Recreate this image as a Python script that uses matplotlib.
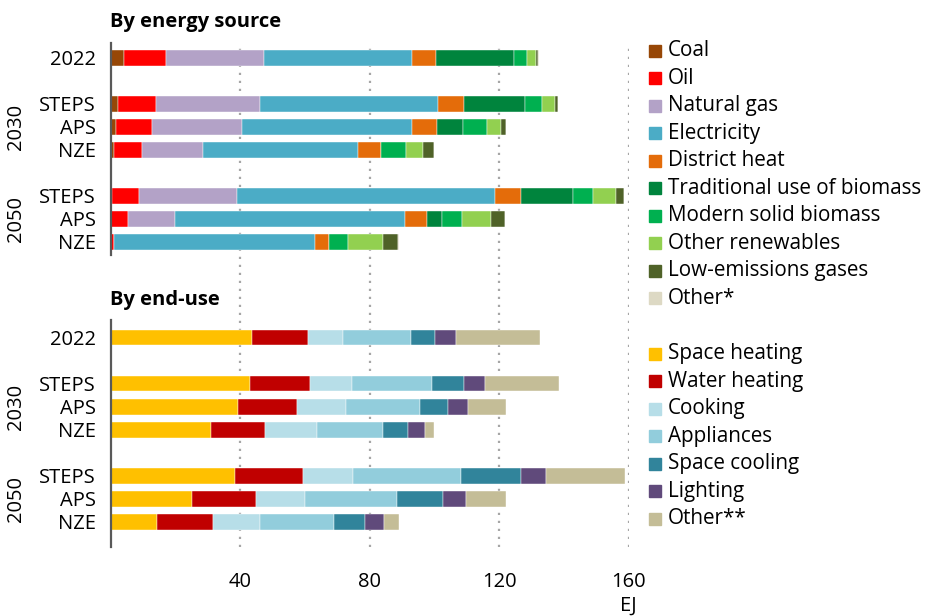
import matplotlib.pyplot as plt
import matplotlib.transforms as mtransforms
from matplotlib.patches import Rectangle
import numpy as np

plt.rcParams['font.family'] = ['Open Sans', 'DejaVu Sans']

row_labels = ['2022', 'STEPS', 'APS', 'NZE', 'STEPS', 'APS', 'NZE']
group_labels = ['2030', '2050']

# By energy source (EJ)
sources = ['Coal', 'Oil', 'Natural gas', 'Electricity', 'District heat',
           'Traditional use of biomass', 'Modern solid biomass',
           'Other renewables', 'Low-emissions gases', 'Other*']
source_colors = ['#974706', '#FF0000', '#B3A2C7', '#4BACC6', '#E46C0A',
                 '#00843D', '#00B050', '#92D050', '#4F6228', '#DDD9C4']
coal        = [4.0, 2.2, 1.6, 1.0, 0.4, 0.0, 0.0]
oil         = [13.0, 11.8, 11.0, 8.6, 8.4, 5.3, 0.9]
natural_gas = [30.3, 32.0, 28.0, 18.9, 30.2, 14.6, 0.0]
electricity = [45.8, 55.1, 52.3, 47.8, 79.7, 71.0, 62.2]
district    = [7.2, 7.9, 7.8, 7.0, 8.1, 6.8, 4.4]
trad_bio    = [24.2, 19.0, 8.1, 0.0, 16.1, 4.6, 0.0]
modern_bio  = [4.2, 5.2, 7.4, 7.9, 6.2, 6.2, 5.7]
other_ren   = [2.8, 4.1, 4.4, 5.2, 7.0, 8.9, 10.9]
low_em      = [0.4, 0.8, 1.4, 3.3, 2.3, 4.3, 4.5]
other_src   = [0.3, 0.2, 0.2, 0.2, 0.2, 0.2, 0.3]
source_data = [coal, oil, natural_gas, electricity, district, trad_bio,
               modern_bio, other_ren, low_em, other_src]

# By end-use (EJ)
uses = ['Space heating', 'Water heating', 'Cooking', 'Appliances',
        'Space cooling', 'Lighting', 'Other**']
use_colors = ['#FFC000', '#C00000', '#B7DEE8', '#92CDDC', '#31849B',
              '#604A7B', '#C4BD97']
space_heating = [43.6, 42.9, 39.4, 30.8, 38.3, 25.1, 14.2]
water_heating = [17.3, 18.5, 18.0, 16.7, 20.9, 19.6, 17.4]
cooking       = [10.8, 13.0, 15.1, 16.2, 15.7, 15.4, 14.4]
appliances    = [20.9, 24.7, 22.9, 20.4, 33.2, 28.2, 22.8]
space_cooling = [7.5, 10.0, 8.9, 7.8, 18.6, 14.3, 9.7]
lighting      = [6.4, 6.4, 6.1, 5.2, 7.6, 7.0, 5.8]
other_use     = [26.0, 23.0, 11.8, 2.8, 24.5, 12.4, 4.7]
use_data = [space_heating, water_heating, cooking, appliances,
            space_cooling, lighting, other_use]

fig = plt.figure(figsize=(9.32, 6.16), dpi=100)
ax = fig.add_axes([111 / 932, 1 - 547 / 616, 517.7 / 932, 504 / 616])

top_rows = np.array([0, 2, 3, 4, 6, 7, 8], dtype=float)
bottom_rows = top_rows + 12.17
bar_h = 0.66

def stack(rows, data, colors):
    left = np.zeros(len(rows))
    for vals, c in zip(data, colors):
        ax.barh(rows, vals, left=left, height=bar_h, color=c,
                edgecolor='white', linewidth=0.3, zorder=3)
        left += np.array(vals)

stack(top_rows, source_data, source_colors)
stack(bottom_rows, use_data, use_colors)

ax.set_xlim(0, 160)
ax.set_ylim(21.26, -0.65)
for s in ax.spines.values():
    s.set_visible(False)

for gx in [40, 80, 120, 160]:
    ax.axvline(gx, color='#A6A6A6', linestyle=(0, (1, 2.6)), linewidth=1.6, zorder=1)

# left axis lines, one per panel
ax.plot([0, 0], [-0.65, 8.57], color='#595959', linewidth=1.6, clip_on=False, zorder=4)
ax.plot([0, 0], [11.39, 21.26], color='#595959', linewidth=1.6, clip_on=False, zorder=4)

fs = 14.5
ax.set_yticks(np.concatenate([top_rows, bottom_rows]))
ax.set_yticklabels(row_labels + row_labels, fontsize=fs)
ax.tick_params(axis='y', length=0, pad=11)
ax.set_xticks([40, 80, 120, 160])
ax.set_xticklabels(['40', '80', '120', '160'], fontsize=fs)
ax.tick_params(axis='x', length=0, pad=18)

trans = mtransforms.blended_transform_factory(fig.transFigure, ax.transData)
for rows in [top_rows, bottom_rows]:
    ax.text(16 / 932, rows[2], group_labels[0], rotation=90, fontsize=fs,
            ha='center', va='center', transform=trans)
    ax.text(16 / 932, rows[5], group_labels[1], rotation=90, fontsize=fs,
            ha='center', va='center', transform=trans)

fig.text(110 / 932, 1 - 22 / 616, 'By energy source', fontsize=14.5,
         fontweight='bold', va='center')
fig.text(110 / 932, 1 - 300 / 616, 'By end-use', fontsize=14.5,
         fontweight='bold', va='center')
fig.text(628 / 932, 1 - 606 / 616, 'EJ', fontsize=fs, ha='center', va='center')

def legend(names, colors, y0):
    for i, (n, c) in enumerate(zip(names, colors)):
        yc = y0 + i * 27.45
        fig.patches.append(Rectangle((649 / 932, 1 - (yc + 6) / 616), 12 / 932, 12 / 616,
                                     color=c, transform=fig.transFigure))
        fig.text(668 / 932, 1 - yc / 616, n, fontsize=14.9, va='center')

legend(sources, source_colors, 51)
legend(uses, use_colors, 354)

plt.savefig('out.png', dpi=100)
